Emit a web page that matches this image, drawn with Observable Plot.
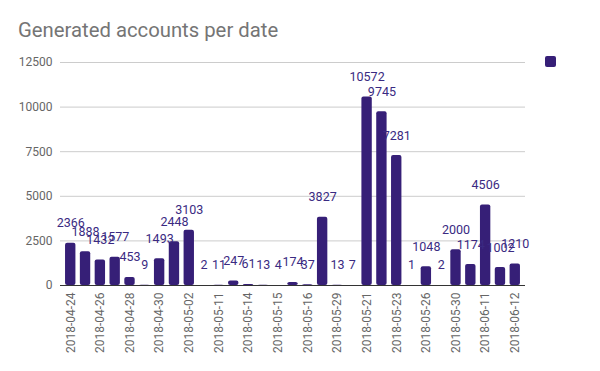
<!DOCTYPE html>
<html><head><meta charset="utf-8">
<script src="https://cdn.jsdelivr.net/npm/d3@7"></script>
<script src="https://cdn.jsdelivr.net/npm/@observablehq/plot@0.6"></script>
<style>
body{margin:0;background:#fff;font-family:Roboto,sans-serif;}
#wrap{position:relative;width:600px;height:371px;}
#title{position:absolute;left:18px;top:18px;font-size:20.3px;color:#757575;font-family:Roboto,sans-serif;}
#legend{position:absolute;left:545px;top:56px;width:11px;height:11px;background:#361f77;border-radius:2px;}
</style></head>
<body><div id="wrap"><div id="title">Generated accounts per date</div><div id="legend"></div><div id="chart"></div></div>
<script>
const dates = ["2018-04-24","2018-04-25","2018-04-26","2018-04-27","2018-04-28","2018-04-29","2018-04-30","2018-05-01","2018-05-02","2018-05-10","2018-05-11","2018-05-13","2018-05-14","2018-05-09","2018-05-15","2018-05-07","2018-05-16","2018-05-17","2018-05-29","2018-05-20","2018-05-21","2018-05-22","2018-05-23","2018-05-24","2018-05-26","2018-05-28","2018-05-30","2018-05-31","2018-06-11","2018-06-05","2018-06-12"];
const accounts = [2366,1888,1432,1577,453,9,1493,2448,3103,2,11,247,61,13,4,174,37,3827,13,7,10572,9745,7281,1,1048,2,2000,1174,4506,1002,1210];
const yTicks = [0,2500,5000,7500,10000,12500];
const xTicks = dates.filter((d,i)=>i%2===0);
const data = dates.map((d,i)=>({date:d, value:accounts[i]}));
const color = "#361f77";
const chart = Plot.plot({
  width:600, height:371,
  marginLeft:60, marginRight:75, marginTop:62, marginBottom:86,
  style:{fontFamily:"Roboto, sans-serif", fontSize:"12px", color:"#666"},
  x:{domain:dates, paddingInner:0.3, paddingOuter:0.34, round:false, label:null},
  y:{domain:[0,12500], label:null},
  marks:[
    Plot.gridY(yTicks,{stroke:"#ccc", strokeOpacity:1}),
    Plot.axisY({ticks:yTicks, tickSize:0, tickPadding:8, fontSize:12, label:null, fill:"#666", tickFormat:d=>String(d)}),
    Plot.axisX({ticks:xTicks, tickSize:0, tickPadding:7, tickRotate:-90, fontSize:12, label:null, fill:"#666"}),
    Plot.barY(data,{x:"date", y:"value", fill:color, rx:2}),
    Plot.ruleY([0],{stroke:"#333"}),
    Plot.text(data,{x:"date", y:"value", text:d=>String(d.value), dy:-20, fill:"#3a2a82", fontSize:12.5})
  ]
});
document.getElementById("chart").appendChild(chart);
</script></body></html>
